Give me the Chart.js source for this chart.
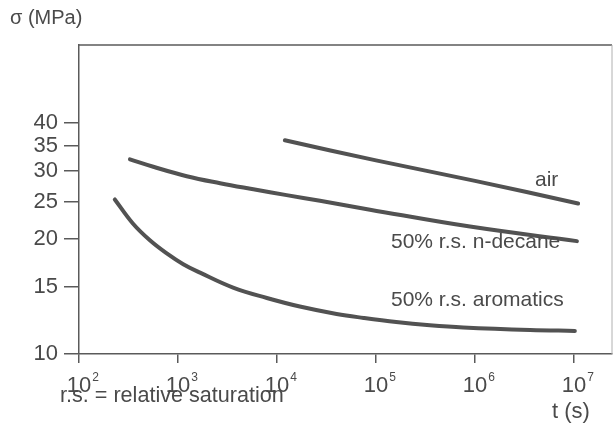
<!DOCTYPE html>
<html>
<head>
<meta charset="utf-8">
<script src="https://cdn.jsdelivr.net/npm/chart.js@4.4.1/dist/chart.umd.min.js"></script>
<style>
  html, body { margin: 0; padding: 0; background: #fff; }
</style>
</head>
<body>
<canvas id="stressChart" width="614" height="427"></canvas>
<script>
// time to failure t (s) against stress (MPa), one pair of arrays per environment
const airTime = [1.2e4, 1e5, 1e6, 1.1e7];
const airStress = [36.1, 32.0, 28.3, 24.7];

const decaneTime = [327, 563, 1225, 2660, 5770, 12500, 27200, 87000, 890000, 1.07e7];
const decaneStress = [32.2, 30.8, 29.1, 27.9, 26.9, 25.97, 25.1, 23.8, 21.5, 19.7];

const aromaticsTime = [230, 350, 520, 770, 1130, 1670, 3600, 7900, 17000, 40000, 75000, 160000, 350000, 760000, 3.6e6, 1.02e7];
const aromaticsStress = [25.3, 21.9, 19.8, 18.3, 17.15, 16.3, 14.9, 14.0, 13.3, 12.72, 12.42, 12.12, 11.89, 11.73, 11.55, 11.49];

const xTicks = [1e2, 1e3, 1e4, 1e5, 1e6, 1e7];
const yTicks = [10, 15, 20, 25, 30, 35, 40];

const INK = '#4a4a4a';
const FONT = '"Liberation Sans", Arial, sans-serif';

function toPoints(xs, ys) {
    return xs.map((x, i) => ({ x: x, y: ys[i] }));
}

function curve(label, xs, ys) {
    return {
        label: label,
        data: toPoints(xs, ys),
        borderColor: '#525252',
        borderWidth: 4,
        borderCapStyle: 'round',
        pointRadius: 0,
        fill: false,
        tension: 0.4
    };
}

// frame, exponents on the time axis and the text labels
const annotations = {
    id: 'annotations',
    afterDraw(chart) {
        const ctx = chart.ctx;
        const area = chart.chartArea;
        const xScale = chart.scales.x;
        ctx.save();

        ctx.strokeStyle = '#5a5a5a';
        ctx.lineWidth = 1.5;
        ctx.beginPath();
        ctx.moveTo(area.left, area.top);
        ctx.lineTo(area.right, area.top);
        ctx.stroke();
        ctx.strokeStyle = '#b0b0b0';
        ctx.lineWidth = 1;
        ctx.beginPath();
        ctx.moveTo(area.right, area.top);
        ctx.lineTo(area.right, area.bottom);
        ctx.stroke();

        ctx.fillStyle = INK;
        ctx.textBaseline = 'middle';

        ctx.font = '22px ' + FONT;
        const baseWidth = ctx.measureText('10').width;
        ctx.font = '12px ' + FONT;
        ctx.textAlign = 'left';
        xTicks.forEach(v => {
            const px = xScale.getPixelForValue(v);
            ctx.fillText(String(Math.round(Math.log10(v))), px + baseWidth / 2 + 1, 378);
        });

        ctx.font = '20px ' + FONT;
        ctx.fillText('\u03c3 (MPa)', 10, 18);

        ctx.font = '21px ' + FONT;
        ctx.fillText('air', 535, 180);
        ctx.fillText('50% r.s. n-decane', 391, 242);
        ctx.fillText('50% r.s. aromatics', 391, 300);
        ctx.font = '21.6px ' + FONT;
        ctx.fillText('r.s. = relative saturation', 60, 396);

        ctx.font = '22px ' + FONT;
        ctx.fillText('t (s)', 552, 412);
        ctx.restore();
    }
};

const chart = new Chart(document.getElementById('stressChart').getContext('2d'), {
    type: 'line',
    data: {
        datasets: [
            curve('air', airTime, airStress),
            curve('50% r.s. n-decane', decaneTime, decaneStress),
            curve('50% r.s. aromatics', aromaticsTime, aromaticsStress)
        ]
    },
    options: {
        responsive: false,
        animation: false,
        layout: { padding: { top: 45, right: 2, left: 0, bottom: 0 } },
        plugins: {
            legend: { display: false },
            tooltip: { enabled: false }
        },
        scales: {
            x: {
                type: 'logarithmic',
                min: 100,
                max: 2.42e7,
                afterBuildTicks: scale => { scale.ticks = xTicks.map(v => ({ value: v })); },
                afterFit: scale => { scale.height = 73; },
                grid: { drawOnChartArea: false, drawTicks: true, tickLength: 9, color: '#5a5a5a', lineWidth: 1.5 },
                border: { display: true, color: '#5a5a5a', width: 1.5 },
                ticks: {
                    autoSkip: false,
                    maxRotation: 0,
                    padding: 10,
                    color: INK,
                    font: { family: FONT, size: 22 },
                    callback: () => '10'
                }
            },
            y: {
                type: 'logarithmic',
                min: 10,
                max: 64,
                afterBuildTicks: scale => { scale.ticks = yTicks.map(v => ({ value: v })); },
                afterFit: scale => { scale.width = 79; },
                grid: { drawOnChartArea: false, drawTicks: true, tickLength: 15, color: '#5a5a5a', lineWidth: 1.5 },
                border: { display: true, color: '#5a5a5a', width: 1.5 },
                ticks: {
                    autoSkip: false,
                    padding: 6,
                    color: INK,
                    font: { family: FONT, size: 22 },
                    callback: v => String(v)
                }
            }
        }
    },
    plugins: [annotations]
});
</script>
</body>
</html>
